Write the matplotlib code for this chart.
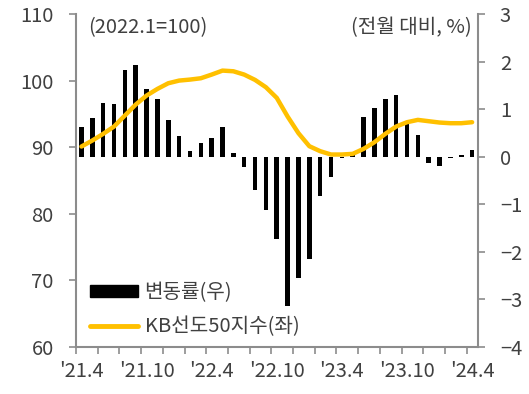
import matplotlib.pyplot as plt
from matplotlib.patches import Patch
from matplotlib.lines import Line2D

plt.rcParams['font.family'] = ['Noto Sans CJK KR', 'DejaVu Sans']
plt.rcParams['axes.unicode_minus'] = True

# monthly, '21.4 ~ '24.4
months = ["'21.4", "'21.5", "'21.6", "'21.7", "'21.8", "'21.9", "'21.10", "'21.11", "'21.12",
          "'22.1", "'22.2", "'22.3", "'22.4", "'22.5", "'22.6", "'22.7", "'22.8", "'22.9",
          "'22.10", "'22.11", "'22.12", "'23.1", "'23.2", "'23.3", "'23.4", "'23.5", "'23.6",
          "'23.7", "'23.8", "'23.9", "'23.10", "'23.11", "'23.12", "'24.1", "'24.2", "'24.3",
          "'24.4"]
# 변동률 (right axis, %)
change = [0.63, 0.82, 1.13, 1.11, 1.83, 1.92, 1.43, 1.21, 0.77, 0.43, 0.12, 0.28, 0.40,
          0.63, 0.07, -0.22, -0.71, -1.11, -1.73, -3.13, -2.55, -2.14, -0.83, -0.43, -0.03,
          0.05, 0.83, 1.02, 1.22, 1.29, 0.70, 0.46, -0.13, -0.19, -0.02, 0.03, 0.15]
# KB선도50지수 (left axis, 2022.1=100)
index = [90.1, 91.0, 92.0, 93.1, 94.75, 96.4, 97.75, 98.75, 99.6, 100.0, 100.15, 100.35,
         100.9, 101.5, 101.4, 100.9, 100.1, 99.0, 97.4, 94.6, 92.1, 90.15, 89.4, 88.9, 88.9,
         89.0, 89.75, 90.75, 92.0, 93.1, 93.75, 94.1, 93.9, 93.7, 93.6, 93.6, 93.75]
label_every = 6

gray = '#8c8c8c'
txt = '#404040'
gold = '#FFC000'
fs = 14.5

fig = plt.figure(figsize=(5.29, 3.94), dpi=100)
ax = fig.add_axes([0.1437, 0.1193, 0.7590, 0.8452])
ax2 = ax.twinx()
ax.set_zorder(ax2.get_zorder() + 1)
ax.patch.set_visible(False)

x = list(range(len(months)))
ax2.bar(x, change, width=0.42, color='black')
ax.plot(x, index, color=gold, lw=3.2, solid_capstyle='round', solid_joinstyle='round')

ax.set_xlim(-0.5, len(months) - 0.5)
ax.set_ylim(60, 110)
ax2.set_ylim(-4, 3)
ax.set_yticks(range(60, 111, 10))
ax2.set_yticks(range(-4, 4))

# tick marks on month boundaries every 2 months, labels under every 6th month
ax.set_xticks([i - 0.5 for i in range(0, len(months), 2)])
ax.set_xticklabels([])
ax.set_xticks(x[::label_every], minor=True)
ax.set_xticklabels(months[::label_every], minor=True)
ax.tick_params(axis='x', which='major', length=5, width=1.2, color=gray)
ax.tick_params(axis='x', which='minor', length=0, pad=10, labelsize=fs, labelcolor=txt)
ax.tick_params(axis='y', length=5, width=1.2, color=gray, pad=11, labelsize=fs, labelcolor=txt)
ax2.tick_params(axis='y', length=5, width=1.2, color=gray, pad=11, labelsize=fs, labelcolor=txt)

for a in (ax, ax2):
    for s in a.spines.values():
        s.set_visible(False)
ax.spines['left'].set_visible(True)
ax.spines['bottom'].set_visible(True)
ax2.spines['right'].set_visible(True)
for s in (ax.spines['left'], ax.spines['bottom'], ax2.spines['right']):
    s.set_color(gray)
    s.set_linewidth(1.5)

ax.text(0.03, 0.99, '(2022.1=100)', transform=ax.transAxes, ha='left', va='top',
        fontsize=fs, color=txt)
ax.text(0.985, 0.99, '(전월 대비, %)', transform=ax.transAxes, ha='right', va='top',
        fontsize=fs, color=txt)

handles = [Patch(facecolor='black', edgecolor='black'),
           Line2D([0], [0], color=gold, lw=3.5, solid_capstyle='round')]
ax.legend(handles, ['변동률(우)', 'KB선도50지수(좌)'], loc='lower left',
          bbox_to_anchor=(-0.01, -0.025), frameon=False, fontsize=fs, handlelength=2.4,
          handleheight=0.5, handletextpad=0.3, labelspacing=0.65, labelcolor=txt)

fig.savefig('out.png', dpi=100)
